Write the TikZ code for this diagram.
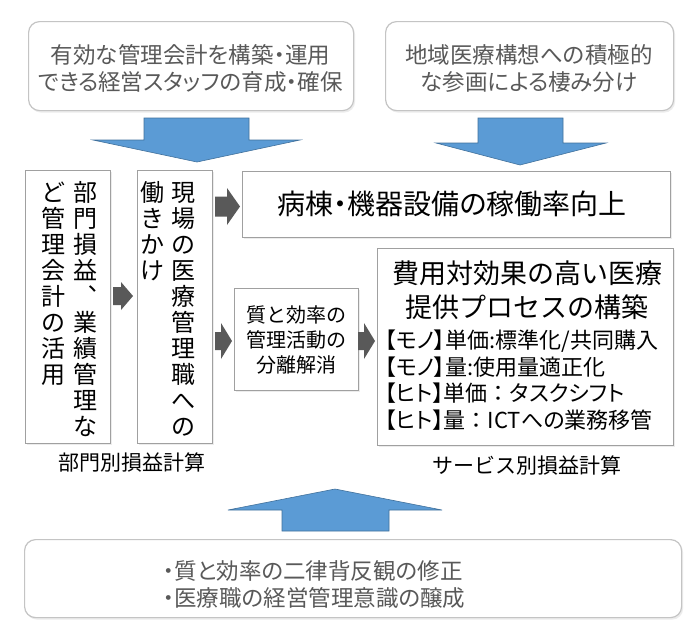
\documentclass[tikz,border=0pt]{standalone}
\usepackage{fontspec}
\setmainfont{Noto Sans CJK JP}
\newfontfamily\jpp[RawFeature=+palt]{Noto Sans CJK JP}
\usetikzlibrary{shadows}
\definecolor{arrowblue}{HTML}{5B9BD5}
\definecolor{arrowblueedge}{HTML}{41719C}
\definecolor{darkarrow}{HTML}{595959}
\definecolor{boxedge}{HTML}{A0A0A0}
\definecolor{roundedge}{HTML}{C4C4C4}
\definecolor{softtext}{HTML}{595959}
\begin{document}
\begin{tikzpicture}[x=1pt,y=-1pt,
  roundbox/.style={draw=roundedge, line width=1.2pt, rounded corners=11pt, fill=white,
    drop shadow={opacity=0.15, shadow xshift=1.5pt, shadow yshift=-2pt}, inner sep=0pt},
  plainbox/.style={draw=boxedge, line width=1.2pt, fill=white,
    drop shadow={opacity=0.15, shadow xshift=1.5pt, shadow yshift=-1.5pt}, inner sep=0pt},
  bluearrow/.style={fill=arrowblue, draw=arrowblueedge, line width=0.6pt},
  grayarrow/.style={fill=darkarrow},
  softlabel/.style={text=softtext, font=\jpp\fontsize{22.5}{27}\selectfont, inner sep=0pt},
  vchar/.style={font=\fontsize{24}{24}\selectfont, inner sep=0pt, text height=21pt, text depth=3pt},
  plainlabel/.style={font=\fontsize{21}{21}\selectfont, inner sep=0pt}
]
\useasboundingbox[fill=white] (0,0) rectangle (700,638);

% top rounded boxes
\node[roundbox, minimum width=325pt, minimum height=89pt, anchor=north west] (tl) at (28,21) {};
\node[softlabel, align=center] (tltext) at (190.5,68.5) {有効な管理会計を構築・運用\\できる経営スタッフの育成・確保};
\node[roundbox, minimum width=288pt, minimum height=89pt, anchor=north west] (tr) at (385,21) {};
\node[softlabel, align=center] (trtext) at (529,68.5) {地域医療構想への積極的\\な参画による棲み分け};

% blue down arrows
\path[bluearrow] (144,118) -- (249,118) -- (249,140) -- (300,140) -- (197,162) -- (93,140) -- (144,140) -- cycle;
\path[bluearrow] (478,118) -- (563,118) -- (563,143) -- (606,143) -- (520,165) -- (436,143) -- (478,143) -- cycle;

% vertical boxes
\node[plainbox, minimum width=85pt, minimum height=273pt, anchor=north west] (b1) at (25,170) {};
\node[plainbox, minimum width=75pt, minimum height=273pt, anchor=north west] (b2) at (137,170) {};
\foreach \c [count=\i] in {部,門,損,益,︑,業,績,管,理,な}
  \node[vchar] (pa\i) at (85,{192+26.1*(\i-1)}) {\c};
\foreach \c [count=\i] in {ど,管,理,会,計,の,活,用}
  \node[vchar] (pb\i) at (53,{192+26.1*(\i-1)}) {\c};
\foreach \c [count=\i] in {現,場,の,医,療,管,理,職,へ,の}
  \node[vchar] (qa\i) at (183,{192+26.1*(\i-1)}) {\c};
\foreach \c [count=\i] in {働,き,か,け}
  \node[vchar] (qb\i) at (152,{192+26.1*(\i-1)}) {\c};

% wide box
\node[plainbox, minimum width=428pt, minimum height=66pt, anchor=north west] (wide) at (242,171) {};
\node[font=\jpp\fontsize{28}{28}\selectfont, inner sep=0pt] (widetext) at (452,204) {病棟・機器設備の稼働率向上};

% middle box
\node[plainbox, minimum width=124pt, minimum height=102pt, anchor=north west] (mid) at (234,288) {};
\node[font=\fontsize{20}{25}\selectfont, inner sep=0pt, align=center] (midtext) at (296,340) {質と効率の\\管理活動の\\分離解消};

% big box
\node[plainbox, minimum width=296pt, minimum height=197pt, anchor=north west] (big) at (377,248) {};
\node[font=\fontsize{27}{34}\selectfont, inner sep=0pt, align=center] (bigtitle) at (527,290) {費用対効果の高い医療\\提供プロセスの構築};
\node[font=\jpp\fontsize{22}{26.7}\selectfont, inner sep=0pt, align=left, anchor=west] (biglist) at (385,380)
  {【モノ】単価:標準化/共同購入\\【モノ】量:使用量適正化\\【ヒト】単価{\rmfamily ：}タスクシフト\\【ヒト】量{\rmfamily ：}ICTへの業務移管};

% labels
\node[plainlabel] (lab1) at (132,462) {部門別損益計算};
\node[plainlabel] (lab2) at (527,465) {サービス別損益計算};

% gray arrows
\path[grayarrow] (113,287) -- (121,287) -- (121,282) -- (133,296) -- (121,310) -- (121,305) -- (113,305) -- cycle;
\path[grayarrow] (215,196.5) -- (227,196.5) -- (227,188) -- (240,206.5) -- (227,225) -- (227,216.5) -- (215,216.5) -- cycle;
\path[grayarrow] (215,332) -- (221,332) -- (221,323) -- (232,341) -- (221,359) -- (221,350) -- (215,350) -- cycle;
\path[grayarrow] (358,332) -- (364,332) -- (364,323) -- (375,341) -- (364,359) -- (364,350) -- (358,350) -- cycle;

% blue up arrow
\path[bluearrow] (282,531) -- (389,531) -- (389,510) -- (442,510) -- (335,489) -- (228,510) -- (282,510) -- cycle;

% bottom rounded box
\node[roundbox, minimum width=657pt, minimum height=78pt, anchor=north west] (bot) at (24,539) {};
\node[softlabel, align=left, anchor=west] (bottext) at (163,584.5) {・質と効率の二律背反観の修正\\・医療職の経営管理意識の醸成};
\end{tikzpicture}
\end{document}
